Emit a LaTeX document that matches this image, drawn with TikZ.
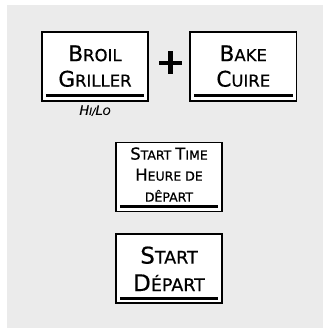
\documentclass[tikz,border=0pt]{standalone}
\usepackage{fontspec}
\setmainfont{DejaVu Sans}[FakeBold=0.6]
\usetikzlibrary{positioning}
\definecolor{panelgray}{HTML}{EBEBEB}
% capital letter followed by small capitals
\newcommand{\keycap}[2]{{\fontsize{\keybig}{\keybig}\selectfont #1}#2}

\begin{document}
\begin{tikzpicture}[
  x=1pt, y=-1pt,
  keybox/.style={draw, line width=1.8pt, fill=white, inner sep=0pt, align=center,
    minimum width=106.5pt, minimum height=69pt,
    path picture={\draw[line width=2.4pt]
      ([xshift=4pt,yshift=5pt]path picture bounding box.south west) --
      ([xshift=-4pt,yshift=5pt]path picture bounding box.south east);}},
  bigkey/.style={keybox, font=\def\keybig{21.5}\fontsize{16.5}{25.5}\selectfont},
  startkey/.style={keybox, font=\def\keybig{23}\fontsize{17.5}{27.5}\selectfont},
  smallkey/.style={keybox, font=\def\keybig{16.5}\fontsize{12.5}{21}\selectfont},
  plus/.style={minimum size=23pt, inner sep=0pt,
    path picture={\draw[line width=4.5pt]
      (path picture bounding box.west) -- (path picture bounding box.east)
      (path picture bounding box.north) -- (path picture bounding box.south);}},
  note/.style={inner sep=0pt, font=\def\keybig{13}\fontsize{10}{10}\selectfont\itshape}
]
\fill[white] (0,0) rectangle (323,328);
\fill[panelgray] (7,5) rectangle (323,328);

\node[bigkey] (broil) at (95,66.2) {\keycap{B}{ROIL}\\\keycap{G}{RILLER}};
\node[bigkey, right=40pt of broil] (bake) {\keycap{B}{AKE}\\\keycap{C}{UIRE}};
\node[plus] (join) at (170.5,63) {};
\node[note, anchor=base] (hilo) at ([yshift=-13.3pt]broil.south) {\keycap{H}{I}/\keycap{L}{O}};

\node[smallkey] (starttime) at (169,177) {\keycap{S}{TART} \keycap{T}{IME}\\
  \keycap{H}{EURE DE}\\{\fontsize{12.5}{21}\selectfont DÊPART}\rule[-5pt]{0pt}{5pt}};
\node[startkey, below=21pt of starttime] (start) {\keycap{S}{TART}\\\keycap{D}{ÉPART}};
\end{tikzpicture}
\end{document}
